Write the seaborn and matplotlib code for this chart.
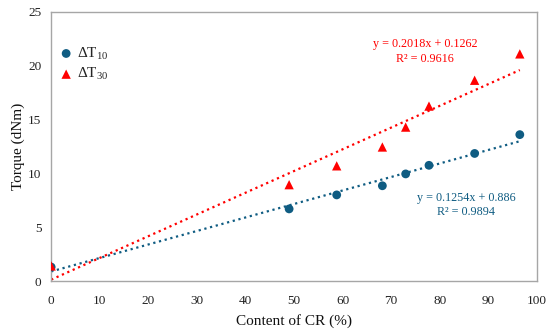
import numpy as np
import pandas as pd
import matplotlib
matplotlib.use("Agg")
import matplotlib.pyplot as plt
import seaborn as sns

# ── Data ──────────────────────────────────────────────────
cr_content = [0, 49.0, 58.8, 68.2, 73.0, 77.8, 87.2, 96.5]
dt10 = [1.3, 6.7, 8.0, 8.85, 9.95, 10.75, 11.85, 13.6]
dt30 = [1.4, 8.95, 10.7, 12.45, 14.3, 16.25, 18.65, 21.1]

fit10 = (0.1254, 0.886)
fit30 = (0.2018, 0.1262)
r2_10 = 0.9894
r2_30 = 0.9616

blue = "#0F5C82"
red = "#FF0000"

sns.set_theme(style="white")
plt.rcParams["font.family"] = ["Liberation Serif", "DejaVu Serif"]
plt.rcParams["mathtext.fontset"] = "custom"
plt.rcParams["mathtext.rm"] = "Liberation Serif"

df = pd.DataFrame({"x": cr_content, "dt10": dt10, "dt30": dt30})
xfit = np.array([0, max(cr_content)])
trend = pd.DataFrame({
    "x": xfit,
    "t10": fit10[0] * xfit + fit10[1],
    "t30": fit30[0] * xfit + fit30[1],
})

fig = plt.figure(figsize=(5.5, 3.31), dpi=100)
ax = fig.add_axes([0.093, 0.151, 0.883, 0.813])

sns.lineplot(data=trend, x="x", y="t30", ax=ax, color=red, linestyle=":", linewidth=1.6)
sns.lineplot(data=trend, x="x", y="t10", ax=ax, color=blue, linestyle=":", linewidth=1.6)
sns.scatterplot(data=df, x="x", y="dt10", ax=ax, color=blue, marker="o", s=40,
                edgecolor="none", label=r"$\mathregular{\Delta T_{10}}$", zorder=3)
sns.scatterplot(data=df, x="x", y="dt30", ax=ax, color=red, marker="^", s=45,
                edgecolor="none", label=r"$\mathregular{\Delta T_{30}}$", zorder=3)

ax.set_xlim(0, 100)
ax.set_ylim(0, 25)
ax.set_xticks(range(0, 101, 10))
ax.set_yticks(range(0, 26, 5))
ax.tick_params(axis="both", length=0, labelsize=9.5, colors="#222222")
ax.tick_params(axis="x", pad=10)
ax.tick_params(axis="y", pad=7)
ax.set_xlabel("Content of CR (%)", fontsize=11, color="#111111", labelpad=5)
ax.set_ylabel("Torque (dNm)", fontsize=11, color="#111111", labelpad=2)
for s in ax.spines.values():
    s.set_color("#A6A6A6")
    s.set_linewidth(1.0)

ax.text(77.0, 21.3, f"y = {fit30[0]}x + {fit30[1]}\nR² = {r2_30}", color=red,
        fontsize=8.7, ha="center", va="center", linespacing=1.3)
ax.text(85.4, 7.05, f"y = {fit10[0]}x + {fit10[1]}\nR² = {r2_10}", color=blue,
        fontsize=8.7, ha="center", va="center", linespacing=1.3)

ax.legend(loc="upper left", bbox_to_anchor=(-0.01, 0.915), frameon=False,
          fontsize=11, handletextpad=0.1, borderpad=0.2, labelspacing=0.3,
          handlelength=1.2)

plt.savefig("out.png", dpi=100)
